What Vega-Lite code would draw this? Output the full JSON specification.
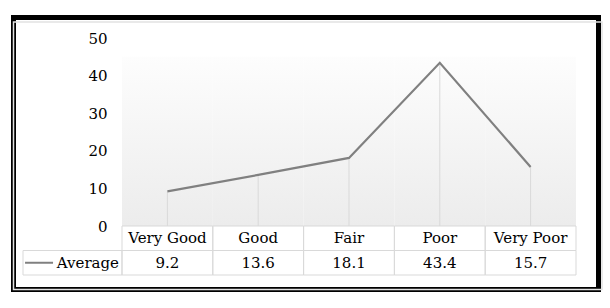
{
  "$schema": "https://vega.github.io/schema/vega-lite/v6.json",
  "width": 585,
  "height": 272,
  "autosize": {"type": "none"},
  "padding": {"left": 13.5, "top": 17.5, "right": 11.5, "bottom": 18.5},
  "background": "white",
  "config": {
    "view": {"stroke": "black", "strokeWidth": 5},
    "font": "DejaVu Serif"
  },
  "datasets": {
    "avg": [
      {"category": "Very Good", "value": 9.2},
      {"category": "Good", "value": 13.6},
      {"category": "Fair", "value": 18.1},
      {"category": "Poor", "value": 43.4},
      {"category": "Very Poor", "value": 15.7}
    ],
    "series": [{"series": "Average"}]
  },
  "layer": [
    {
      "data": {"name": "avg"},
      "encoding": {
        "x": {"field": "category", "type": "nominal", "scale": {"type": "band", "domain": ["Very Good", "Good", "Fair", "Poor", "Very Poor"], "range": [108.5, 562.5], "paddingInner": 0, "paddingOuter": 0}, "axis": null}
      },
      "layer": [
        {
          "mark": {"type": "rect", "fill": {"gradient": "linear", "x1": 0, "y1": 0, "x2": 0, "y2": 1, "stops": [{"offset": 0, "color": "#fdfdfd"}, {"offset": 1, "color": "#ececec"}]}},
          "encoding": {
            "y": {"datum": 45, "type": "quantitative", "scale": {"domain": [0, 50], "range": [208.5, 20.5], "nice": false}, "axis": {"values": [0, 10, 20, 30, 40, 50], "offset": -108.5, "ticks": false, "domain": false, "grid": false, "labelPadding": 15, "labelFont": "DejaVu Serif", "labelFontSize": 15, "labelColor": "#000000", "labelFlush": false, "labelOverlap": false, "title": null}},
            "y2": {"datum": 0}
          }
        },
        {
          "mark": {"type": "rule", "color": "#d9d9d9", "strokeWidth": 1},
          "encoding": {
            "y": {"field": "value", "type": "quantitative", "scale": {"domain": [0, 50], "range": [208.5, 20.5], "nice": false}, "axis": {"values": [0, 10, 20, 30, 40, 50], "offset": -108.5, "ticks": false, "domain": false, "grid": false, "labelPadding": 15, "labelFont": "DejaVu Serif", "labelFontSize": 15, "labelColor": "#000000", "labelFlush": false, "labelOverlap": false, "title": null}},
            "y2": {"datum": 0}
          }
        },
        {
          "mark": {"type": "line", "color": "#808080", "strokeWidth": 2.2},
          "encoding": {
            "y": {"field": "value", "type": "quantitative", "scale": {"domain": [0, 50], "range": [208.5, 20.5], "nice": false}, "axis": {"values": [0, 10, 20, 30, 40, 50], "offset": -108.5, "ticks": false, "domain": false, "grid": false, "labelPadding": 15, "labelFont": "DejaVu Serif", "labelFontSize": 15, "labelColor": "#000000", "labelFlush": false, "labelOverlap": false, "title": null}}
          }
        }
      ]
    },
    {
      "data": {"name": "avg"},
      "encoding": {
        "x": {"field": "category", "type": "nominal", "scale": {"type": "band", "domain": ["Very Good", "Good", "Fair", "Poor", "Very Poor"], "range": [108.5, 562.5], "paddingInner": 0, "paddingOuter": 0}, "axis": null}
      },
      "layer": [
        {
          "mark": {"type": "rect", "fill": "transparent", "stroke": "#d9d9d9", "strokeWidth": 1},
          "encoding": {"y": {"datum": "cat", "type": "nominal", "scale": {"type": "band", "domain": ["cat", "val"], "range": [208.5, 257.5], "paddingInner": 0, "paddingOuter": 0}, "axis": null}}
        },
        {
          "mark": {"type": "rect", "fill": "transparent", "stroke": "#d9d9d9", "strokeWidth": 1},
          "encoding": {"y": {"datum": "val", "type": "nominal", "scale": {"type": "band", "domain": ["cat", "val"], "range": [208.5, 257.5], "paddingInner": 0, "paddingOuter": 0}, "axis": null}}
        },
        {
          "mark": {"type": "text", "font": "DejaVu Serif", "fontSize": 15, "color": "#000000", "baseline": "middle"},
          "encoding": {
            "y": {"datum": "cat", "type": "nominal", "scale": {"type": "band", "domain": ["cat", "val"], "range": [208.5, 257.5], "paddingInner": 0, "paddingOuter": 0}, "axis": null},
            "text": {"field": "category", "type": "nominal"}
          }
        },
        {
          "mark": {"type": "text", "font": "DejaVu Serif", "fontSize": 15, "color": "#000000", "baseline": "middle"},
          "encoding": {
            "y": {"datum": "val", "type": "nominal", "scale": {"type": "band", "domain": ["cat", "val"], "range": [208.5, 257.5], "paddingInner": 0, "paddingOuter": 0}, "axis": null},
            "text": {"field": "value", "type": "quantitative", "format": ".1f"}
          }
        }
      ]
    },
    {
      "data": {"name": "series"},
      "encoding": {
        "y": {"datum": "val", "type": "nominal", "scale": {"type": "band", "domain": ["cat", "val"], "range": [208.5, 257.5], "paddingInner": 0, "paddingOuter": 0}, "axis": null}
      },
      "layer": [
        {
          "mark": {"type": "rect", "fill": "transparent", "stroke": "#d9d9d9", "strokeWidth": 1},
          "encoding": {"x": {"field": "series", "type": "nominal", "scale": {"type": "band", "domain": ["Average"], "range": [9.5, 108.5], "paddingInner": 0, "paddingOuter": 0}, "axis": null}}
        },
        {
          "mark": {"type": "point", "shape": "stroke", "size": 784, "stroke": "#808080", "strokeWidth": 2, "filled": false, "opacity": 1},
          "encoding": {"x": {"field": "series", "type": "nominal", "bandPosition": 0.162, "scale": {"type": "band", "domain": ["Average"], "range": [9.5, 108.5], "paddingInner": 0, "paddingOuter": 0}, "axis": null}}
        },
        {
          "mark": {"type": "text", "align": "right", "dx": -3, "font": "DejaVu Serif", "fontSize": 15, "color": "#000000", "baseline": "middle"},
          "encoding": {
            "x": {"field": "series", "type": "nominal", "bandPosition": 1, "scale": {"type": "band", "domain": ["Average"], "range": [9.5, 108.5], "paddingInner": 0, "paddingOuter": 0}, "axis": null},
            "text": {"field": "series", "type": "nominal"}
          }
        }
      ]
    },
    {
      "data": {"values": [{}]},
      "mark": {"type": "rect", "fill": "transparent", "stroke": "#e2e2e2", "strokeWidth": 1.5, "xOffset": 3.5, "x2Offset": -6, "yOffset": 4.5, "y2Offset": -6},
      "encoding": {}
    }
  ],
  "resolve": {"scale": {"x": "independent", "y": "independent"}}
}
